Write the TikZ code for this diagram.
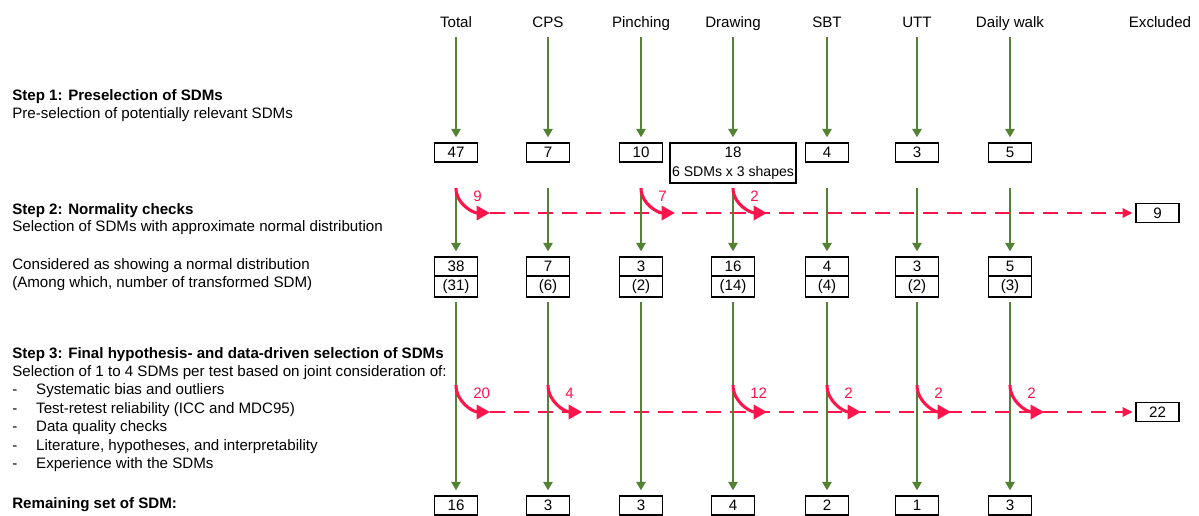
\documentclass[tikz,border=0pt]{standalone}
\usepackage{fontspec}
\setmainfont{Liberation Sans}
\usetikzlibrary{arrows.meta}

\definecolor{sdmgreen}{RGB}{84,130,53}
\definecolor{sdmred}{RGB}{255,20,75}

\tikzset{
  numbox/.style={draw, line width=0.9pt, minimum width=1.075cm, minimum height=0.475cm,
    inner xsep=1.5pt, inner ysep=2.5pt, outer sep=0pt, align=center},
  txt/.style={inner sep=0pt, text height=.72em, text depth=.21em},
  lefttxt/.style={txt, anchor=west},
  garrow/.style={draw=sdmgreen, line width=1.7pt, -{Triangle[length=6pt,width=6.5pt]}, shorten >=4pt},
  rcurve/.style={draw=sdmred, line width=2.2pt, -{Triangle[length=9.5pt,width=10pt]}},
  rdash/.style={draw=sdmred, line width=2pt, dash pattern=on 10.7pt off 6.4pt,
    -{Triangle[length=7pt,width=6.5pt]}, shorten >=2.5pt},
  rlbl/.style={txt, anchor=west, text=sdmred},
}

\begin{document}
\begin{tikzpicture}[x=0.025cm, y=-0.025cm, font=\fontsize{10.75}{12.8}\selectfont]
\useasboundingbox (0,0) rectangle (1199,515);

\node[lefttxt] (st1) at (12,97) {\bfseries Step 1: Preselection of SDMs};
\node[lefttxt] (st1b) at (12,115) {Pre-selection of potentially relevant SDMs};
\node[lefttxt] (st2) at (12,211) {\bfseries Step 2: Normality checks};
\node[lefttxt] (st2b) at (12,228) {Selection of SDMs with approximate normal distribution};
\node[lefttxt] (norm) at (12,266) {Considered as showing a normal distribution};
\node[lefttxt] (trans) at (12,284) {(Among which, number of transformed SDM)};
\node[lefttxt] (st3) at (12,355) {\bfseries Step 3: Final hypothesis- and data-driven selection of SDMs};
\node[lefttxt] (st3b) at (12,373) {Selection of 1 to 4 SDMs per test based on joint consideration of:};
\foreach \t [count=\k] in {Systematic bias and outliers, Test-retest reliability (ICC and MDC95),
    Data quality checks, {Literature, hypotheses, and interpretability}, Experience with the SDMs}
  \node[lefttxt] (crit-\k) at (12,391+18.5*\k-18.5) {\makebox[17pt][l]{-}\t};
\node[lefttxt] (rest) at (12,505) {\bfseries Remaining set of SDM:};

\foreach \i/\x/\name/\a/\b/\c/\d in {1/456/Total/47/38/31/16, 2/548/CPS/7/7/6/3,
    3/641/Pinching/10/3/2/3,
    4/733/Drawing/{18\\[1pt]{\fontsize{10}{12}\selectfont 6 SDMs x 3 shapes}}/16/14/4,
    5/827/SBT/4/4/4/2, 6/917/UTT/3/3/2/1, 7/1010/Daily walk/5/5/3/3}{
  \node[txt] (h-\i) at (\x,24) {\name};
  \node[numbox, anchor=north] (n1-\i) at (\x,143) {\a};
  \node[numbox] (n2-\i) at (\x,266.5) {\b};
  \node[numbox, anchor=north] (m2-\i) at (n2-\i.south) {(\c)};
  \node[numbox, anchor=north] (n3-\i) at (\x,496) {\d};
  \coordinate (s2-\i) at (\x,188);
  \coordinate (r2-\i) at (\x+34,213);
  \coordinate (s3-\i) at (\x,385);
  \coordinate (r3-\i) at (\x+34,412);
}

\node[txt] (h-ex) at (1160,24) {Excluded};
\node[numbox] (x2) at (1157.5,213) {9};
\node[numbox] (x3) at (1157.5,412) {22};

\draw[rdash] (r2-1) -- (x2);
\draw[rdash] (r3-1) -- (x3);

\foreach \i in {1,...,7}{
  \draw[garrow, shorten <=4.4pt] (h-\i) -- (n1-\i);
  \draw[garrow] (s2-\i) -- (n2-\i);
  \draw[garrow, shorten <=3.6pt] (m2-\i) -- (n3-\i);
}

\foreach \i/\n in {1/9, 3/7, 4/2}{
  \draw[rcurve] (s2-\i) to[out=-90, in=180] (r2-\i);
  \node[rlbl] (l2-\i) at ([shift={(17,10)}]s2-\i) {\n};
}
\foreach \i/\n in {1/20, 2/4, 4/12, 5/2, 6/2, 7/2}{
  \draw[rcurve] (s3-\i) to[out=-90, in=180] (r3-\i);
  \node[rlbl] (l3-\i) at ([shift={(17,10)}]s3-\i) {\n};
}
\end{tikzpicture}
\end{document}
